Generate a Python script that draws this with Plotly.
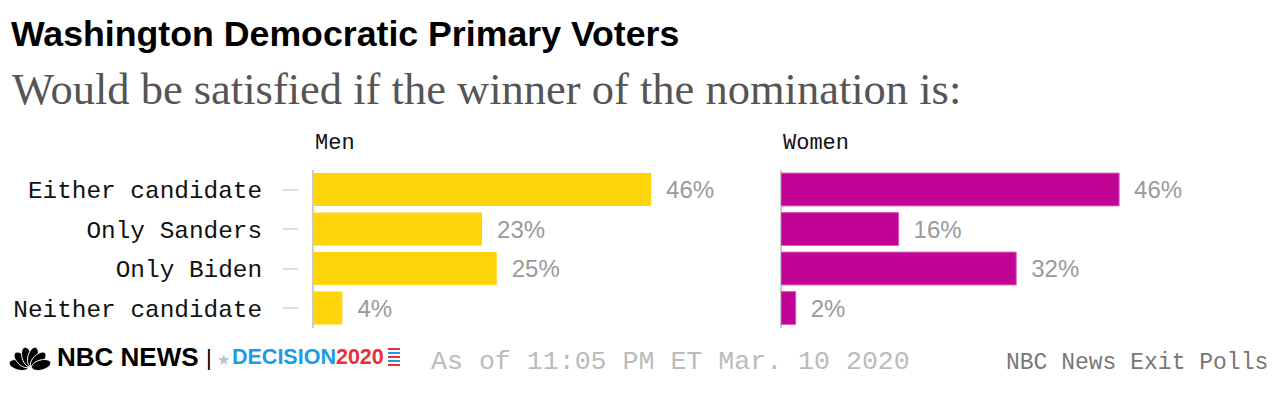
import math
import plotly.graph_objects as go

W, H = 1280, 394
OFF = 8  # page body margin

categories = ["Either candidate", "Only Sanders", "Only Biden", "Neither candidate"]
men_values = [46, 23, 25, 4]
women_values = [46, 16, 32, 2]
panel_titles = ["Men", "Women"]

title = "Washington Democratic Primary Voters"
subtitle = "Would be satisfied if the winner of the nomination is:"
timestamp = "As of 11:05 PM ET Mar. 10 2020"
source = "NBC News Exit Polls"

YELLOW = "#FED50B"
MAGENTA = "#C10396"
MONO = "Liberation Mono, DejaVu Sans Mono, monospace"


def px(x):
    return (x - OFF) / W


def py(y):
    return 1 - (y - OFF) / H


fig = go.Figure()

label_font = dict(family="Liberation Sans, Arial, sans-serif", size=24, color="#9a9a9a")
fig.add_trace(go.Bar(
    y=categories, x=men_values, orientation="h",
    marker=dict(color=YELLOW, line=dict(width=0)),
    width=0.83,
    text=[f"\u2002{v}%" for v in men_values], textposition="outside",
    textfont=label_font,
    cliponaxis=False, xaxis="x", yaxis="y", hoverinfo="skip",
))
fig.add_trace(go.Bar(
    y=categories, x=women_values, orientation="h",
    marker=dict(color=MAGENTA, line=dict(width=1, color="#d55ab8")),
    width=0.83,
    text=[f"\u2002{v}%" for v in women_values], textposition="outside",
    textfont=label_font,
    cliponaxis=False, xaxis="x2", yaxis="y2", hoverinfo="skip",
))

ydom = [py(327.75), py(169.75)]
xcommon = dict(range=[0, 60], showgrid=False, showticklabels=False, ticks="",
               zeroline=True, zerolinecolor="#cccccc", zerolinewidth=2, fixedrange=True)

fig.update_layout(
    width=W, height=H,
    margin=dict(l=0, r=0, t=0, b=0),
    paper_bgcolor="white", plot_bgcolor="white",
    showlegend=False,
    xaxis=dict(domain=[px(313), px(754)], anchor="y", **xcommon),
    xaxis2=dict(domain=[px(781), px(1222)], anchor="y2", **xcommon),
    yaxis=dict(domain=ydom, anchor="free", position=px(298),
               categoryorder="array", categoryarray=categories,
               autorange="reversed", showgrid=False, showline=False, zeroline=False,
               ticks="outside", ticklen=15, tickcolor="#dddddd", tickwidth=2,
               ticklabelstandoff=16,
               tickfont=dict(family=MONO, size=24.4, color="#111111")),
    yaxis2=dict(domain=ydom, anchor="x2",
                categoryorder="array", categoryarray=categories,
                autorange="reversed", showgrid=False, showline=False, zeroline=False,
                showticklabels=False, ticks=""),
)

ann = []
ann.append(dict(text=f"<b>{title}</b>", x=px(9), y=py(34), xref="paper", yref="paper",
                xanchor="left", yanchor="middle", showarrow=False,
                font=dict(family="Liberation Sans, Arial, sans-serif", size=35.7, color="#000000")))
ann.append(dict(text=subtitle, x=px(10), y=py(89), xref="paper", yref="paper",
                xanchor="left", yanchor="middle", showarrow=False,
                font=dict(family="Liberation Serif, Times New Roman, serif", size=44.5, color="#555555")))
for t, x0 in zip(panel_titles, [313, 781]):
    ann.append(dict(text=t, x=px(x0), y=py(143), xref="paper", yref="paper",
                    xanchor="left", yanchor="middle", showarrow=False,
                    font=dict(family=MONO, size=22, color="#111111")))
ann.append(dict(text=timestamp, x=px(429), y=py(362), xref="paper", yref="paper",
                xanchor="left", yanchor="middle", showarrow=False,
                font=dict(family=MONO, size=26.6, color="#bbbbbb")))
ann.append(dict(text=source, x=px(1270), y=py(363), xref="paper", yref="paper",
                xanchor="right", yanchor="middle", showarrow=False,
                font=dict(family=MONO, size=23, color="#777777")))
# logo text
ann.append(dict(text="<b>NBC NEWS</b>", x=px(55), y=py(357), xref="paper", yref="paper",
                xanchor="left", yanchor="middle", showarrow=False,
                font=dict(family="Liberation Sans, Arial, sans-serif", size=26, color="#000000")))
ann.append(dict(text="|", x=px(204), y=py(357), xref="paper", yref="paper",
                xanchor="left", yanchor="middle", showarrow=False,
                font=dict(family="Liberation Sans, sans-serif", size=22, color="#000000")))
ann.append(dict(text="★", x=px(215), y=py(360), xref="paper", yref="paper",
                xanchor="left", yanchor="middle", showarrow=False,
                font=dict(family="DejaVu Sans, sans-serif", size=15, color="#b8c4cf")))
ann.append(dict(text="<b><span style='color:#1c9be8'>DECISION</span><span style='color:#ee2d3a'>2020</span></b>",
                x=px(230), y=py(357), xref="paper", yref="paper",
                xanchor="left", yanchor="middle", showarrow=False,
                font=dict(family="Liberation Sans, Arial, sans-serif", size=21.5, color="#1c9be8")))
fig.update_layout(annotations=ann)

# decorative logo pieces: peacock fan and flag stripes
shapes = []
cx, cy, r = 30, 368, 21
for i in range(6):
    ang = math.radians(180 - (i + 0.5) * 30)
    ex, ey = cx + 0.55 * r * math.cos(ang), cy - 0.55 * r * math.sin(ang)
    a, b = 0.47 * r, 0.24 * r
    pts = []
    for k in range(24):
        t = 2 * math.pi * k / 24
        lx, ly = a * math.cos(t), b * math.sin(t)
        X = ex + lx * math.cos(ang) - ly * math.sin(ang)
        Y = ey - (lx * math.sin(ang) + ly * math.cos(ang))
        pts.append(f"{px(X):.5f},{py(Y):.5f}")
    shapes.append(dict(type="path", xref="paper", yref="paper",
                       path="M" + " L".join(pts) + " Z",
                       fillcolor="#000000", line=dict(color="white", width=1)))
for k in range(5):
    yy = 349 + k * 4
    shapes.append(dict(type="line", xref="paper", yref="paper",
                       x0=px(388), x1=px(400), y0=py(yy), y1=py(yy),
                       line=dict(color="#ee2d3a" if k % 2 == 0 else "#1c9be8", width=2)))
fig.update_layout(shapes=shapes)

fig.write_html("out.html")
